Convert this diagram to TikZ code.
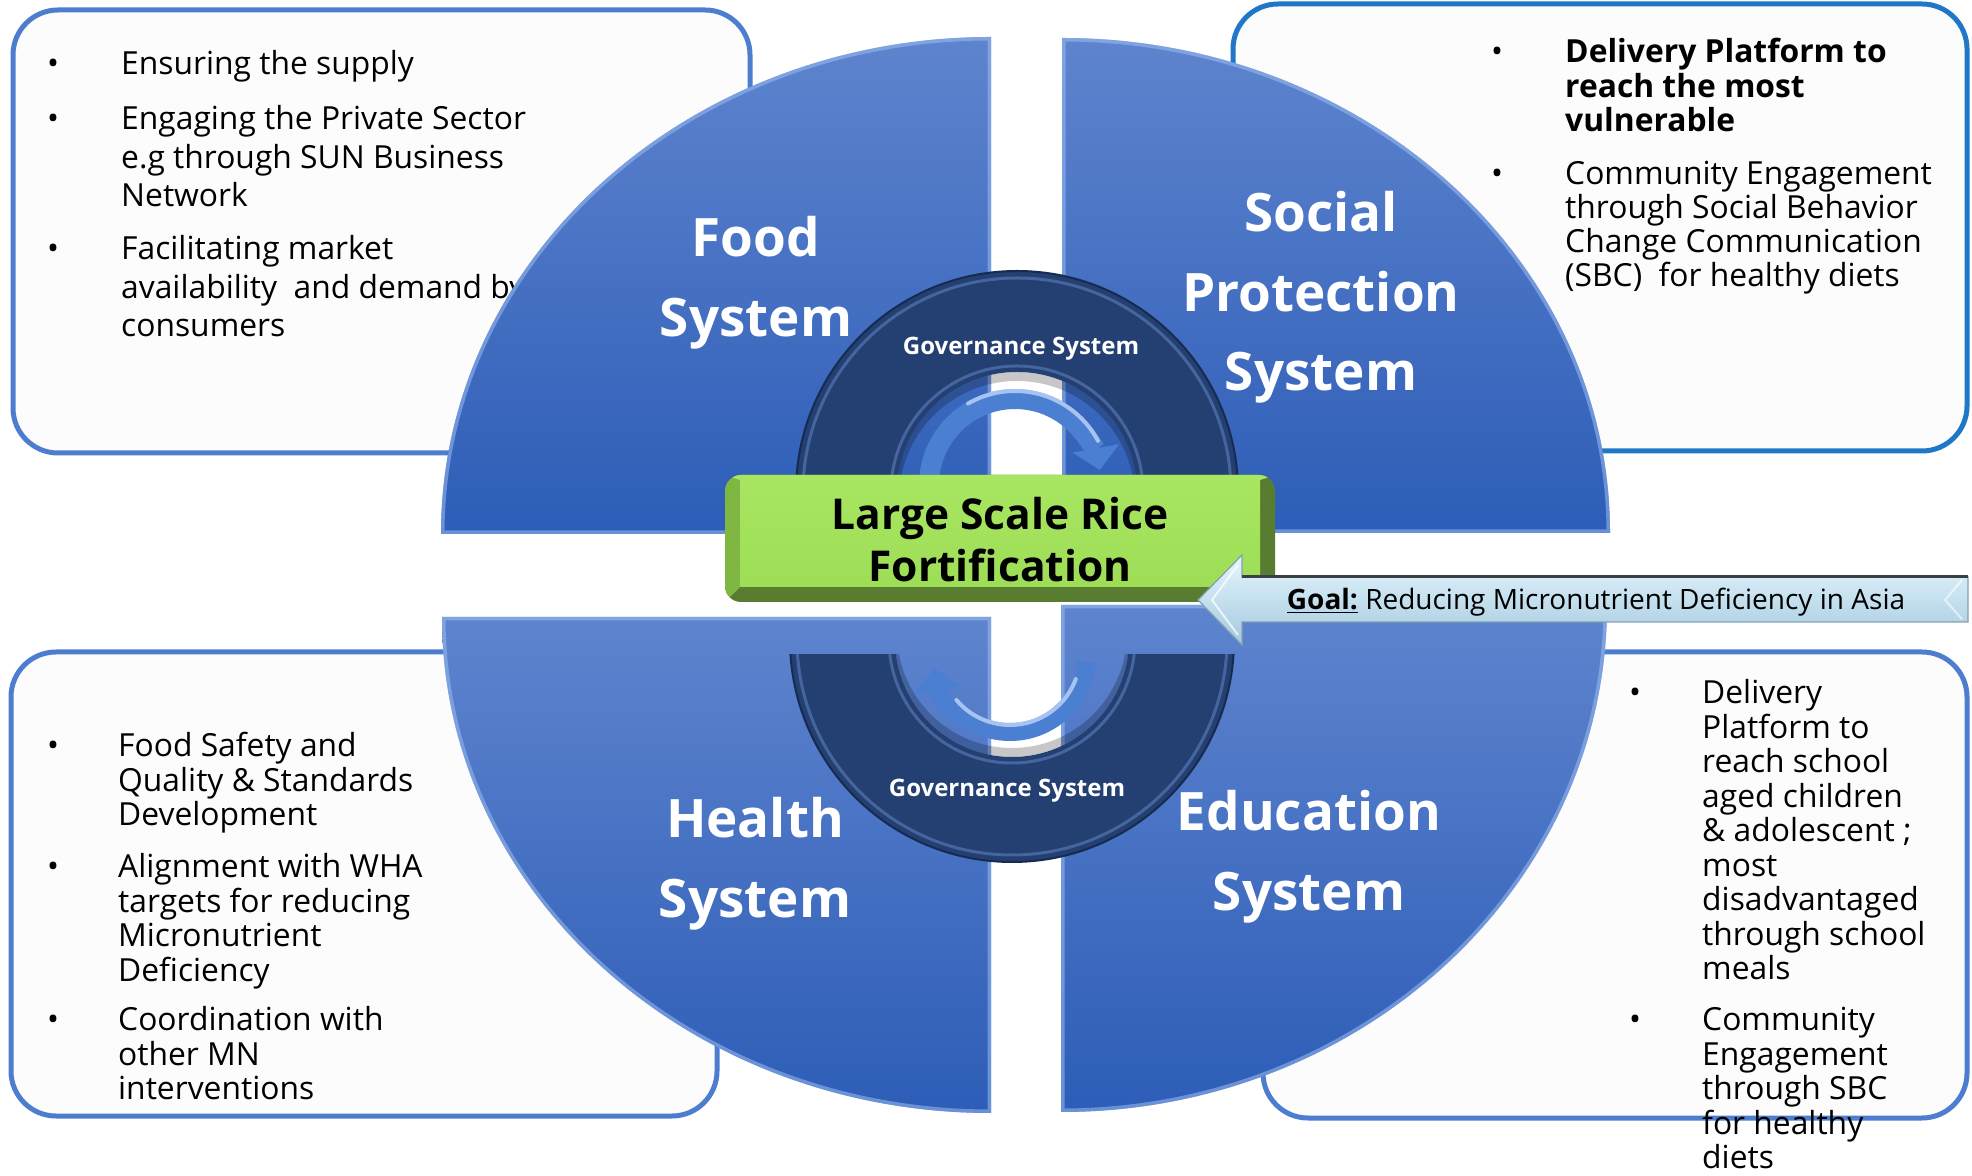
\documentclass[tikz,border=0pt]{standalone}
\usepackage{fontspec}
\setmainfont{Open Sans}
\usetikzlibrary{arrows.meta}

\definecolor{qtop}{HTML}{5E84CE}
\definecolor{qbot}{HTML}{2D5DB7}
\definecolor{qrim}{HTML}{9CBDF2}
\definecolor{boxblue}{HTML}{4D7DCF}
\definecolor{boxblueb}{HTML}{1F77C8}
\definecolor{boxfill}{HTML}{FCFCFC}
\definecolor{ringblue}{HTML}{243F72}
\definecolor{ringrim}{HTML}{45659F}
\definecolor{ringedge}{HTML}{172B50}
\definecolor{cycblue}{HTML}{4A7FD2}
\definecolor{cychi}{HTML}{CFE2FF}
\definecolor{gface}{HTML}{9EDD56}
\definecolor{gfacetop}{HTML}{A8E661}
\definecolor{gleft}{HTML}{80B642}
\definecolor{gdark}{HTML}{587C30}
\definecolor{goalhi}{HTML}{E6F7FE}
\definecolor{goallo}{HTML}{A3C8DE}
\definecolor{goaledge}{HTML}{3A3F46}

% quarter disc: centre x, centre y, start angle, end angle, x radius, y radius
\newcommand\qdisc[6]{%
  \begin{scope}
    \clip (#1,#2) -- ++(#3:#5 and #6) arc[start angle=#3, end angle=#4, x radius=#5, y radius=#6] -- cycle;
    \shade[top color=qtop, bottom color=qbot] (#1,#2) -- ++(#3:#5 and #6) arc[start angle=#3, end angle=#4, x radius=#5, y radius=#6] -- cycle;
    \draw[qrim, line width=7pt, opacity=.55] (#1,#2) -- ++(#3:#5 and #6) arc[start angle=#3, end angle=#4, x radius=#5, y radius=#6] -- cycle;
  \end{scope}}

% stacked lines, centred or flush left, baseline = first line
\newcommand\ctrlines[1]{\vtop{\halign{\hfil##\hfil\cr#1\crcr}}}
\newcommand\leftlines[1]{\vtop{\halign{##\hfil\cr#1\crcr}}}

\begin{document}
\begin{tikzpicture}[x=1pt,y=1pt,
  infobox/.style={draw=boxblue, line width=5pt, fill=boxfill, rounded corners=45pt},
  listtxt/.style={anchor=base west, inner sep=0pt, text=black, font=\fontsize{31.8}{34.5}\selectfont},
  widelist/.style={font=\fontsize{31.8}{38.5}\selectfont},
  bul/.style={anchor=base, inner sep=0pt, text=black, font=\fontsize{31.8}{34.5}\selectfont},
  title/.style={anchor=base, inner sep=0pt, text=white, font=\bfseries\fontsize{53}{79.5}\selectfont},
  govtxt/.style={anchor=base, inner sep=0pt, text=white, font=\bfseries\fontsize{24}{28}\selectfont},
  ring/.style={fill=ringblue, even odd rule},
  cycarrow/.style={draw=cycblue, line width=20pt, -{Triangle[width=46pt, length=22pt]}},
  cychl/.style={draw=cychi, line width=4pt, opacity=.7, line cap=round}
]
\useasboundingbox (0,0) rectangle (1972,1175);
\fill[white] (0,0) rectangle (1972,1175);

% ---- text boxes behind the discs ----
\draw[infobox] (13,722) rectangle (750,1165);
\draw[infobox, draw=boxblueb] (1233,724) rectangle (1967,1171);
\draw[infobox] (11,59) rectangle (717,523);
\draw[infobox] (1263,57) rectangle (1967,523);

% top left list
\node[bul] (tlb1) at (53,1100) {\textbullet};
\node[listtxt, widelist] (tl1) at (121,1100) {Ensuring the supply};
\node[bul] (tlb2) at (53,1045) {\textbullet};
\node[listtxt, widelist] (tl2) at (121,1045) {\leftlines{Engaging the Private Sector\cr e.g through SUN Business\cr Network}};
\node[bul] (tlb3) at (53,915) {\textbullet};
\node[listtxt, widelist] (tl3) at (121,915) {\leftlines{Facilitating market\cr availability~ and demand by\cr consumers}};

% top right list
\node[bul] (trb1) at (1497,1112) {\textbullet};
\node[listtxt, font=\bfseries\fontsize{31.8}{34.5}\selectfont] (tr1) at (1565,1112) {\leftlines{Delivery Platform to\cr reach the most\cr vulnerable}};
\node[bul] (trb2) at (1497,990) {\textbullet};
\node[listtxt, font=\fontsize{31.8}{34}\selectfont] (tr2) at (1565,990) {\leftlines{Community Engagement\cr through Social Behavior\cr Change Communication\cr (SBC)~ for healthy diets}};

% bottom left list
\node[bul] (blb1) at (53,418) {\textbullet};
\node[listtxt] (bl1) at (118,418) {\leftlines{Food Safety and\cr Quality \& Standards\cr Development}};
\node[bul] (blb2) at (53,297) {\textbullet};
\node[listtxt] (bl2) at (118,297) {\leftlines{Alignment with WHA\cr targets for reducing\cr Micronutrient\cr Deficiency}};
\node[bul] (blb3) at (53,144) {\textbullet};
\node[listtxt] (bl3) at (118,144) {\leftlines{Coordination with\cr other MN\cr interventions}};

% bottom right list
\node[bul] (brb1) at (1635,471) {\textbullet};
\node[listtxt] (br1) at (1702,471) {\leftlines{Delivery\cr Platform to\cr reach school\cr aged children\cr \& adolescent ;\cr most\cr disadvantaged\cr through school\cr meals}};
\node[bul] (brb2) at (1635,144) {\textbullet};
\node[listtxt] (br2) at (1702,144) {\leftlines{Community\cr Engagement\cr through SBC\cr for healthy\cr diets}};

% ---- four quarter discs ----
\qdisc{991}{641}{180}{90}{550}{497}
\qdisc{1062}{642}{90}{0}{548}{495}
\qdisc{991}{558}{180}{270}{549}{496}
\qdisc{1061}{570}{0}{-90}{546}{507}

% ---- governance rings ----
\begin{scope}
  \clip (1017,683) circle[radius=120];
  \draw[black, opacity=.22, line width=16pt] (1017,676) circle[radius=126];
\end{scope}
\begin{scope}
  \clip (700,700) rectangle (1300,1000);
  \fill[ring] (1017,683) circle[radius=221] (1017,683) circle[radius=120];
  \draw[ringrim, line width=3pt] (1017,683) circle[radius=214];
  \draw[ringrim, line width=3pt] (1017,683) circle[radius=126];
  \draw[ringedge, line width=2pt] (1017,683) circle[radius=221];
\end{scope}

\begin{scope}
  \clip (700,200) rectangle (1300,520);
  \begin{scope}
    \clip (1012,535) circle[radius=117];
    \draw[black, opacity=.22, line width=16pt] (1012,542) circle[radius=123];
  \end{scope}
  \fill[ring] (1012,535) circle[radius=222] (1012,535) circle[radius=117];
  \draw[ringrim, line width=3pt] (1012,535) circle[radius=215];
  \draw[ringrim, line width=3pt] (1012,535) circle[radius=123];
  \draw[ringedge, line width=2pt] (1012,535) circle[radius=222];
\end{scope}

% cycle arrows inside the rings
\coordinate (topc) at (1015,690);
\coordinate (botc) at (1010,520);
\draw[cycarrow] (topc) ++(195:86) arc[start angle=195, end angle=10, radius=86];
\draw[cychl] (topc) ++(120:94) arc[start angle=120, end angle=28, radius=94];
\draw[cycarrow, line width=18pt] (botc) ++(-5:77) arc[start angle=-5, end angle=-170, radius=77];
\draw[cychl] (botc) ++(-20:70) arc[start angle=-20, end angle=-140, radius=70];

% ---- central green box ----
\fill[gdark, rounded corners=16pt] (725,573) rectangle (1275,700);
\begin{scope}
  \clip[rounded corners=16pt] (725,573) rectangle (1275,700);
  \fill[gleft] (725,573) -- (740,588) -- (740,695) -- (1260,695) -- (1275,700) -- (725,700) -- cycle;
  \fill[gfacetop] (725,700) -- (740,695) -- (1260,695) -- (1275,700) -- cycle;
\end{scope}
\shade[top color=gfacetop, bottom color=gface] (740,588) rectangle (1260,695);

% ---- goal arrow ----
\shade[top color=goalhi, bottom color=goallo, draw=goallo!80!black, line width=1.2pt]
  (1198,575) -- (1242,620) -- (1242,598) -- (1968,598) -- (1968,553) -- (1242,553) -- (1242,530) -- cycle;
\draw[white, opacity=.7, line width=2pt] (1238,610) -- (1212,575) -- (1238,540);
\draw[goaledge, line width=3pt] (1242,598) -- (1968,598);
\draw[white, opacity=.6, line width=2pt] (1962,595) -- (1945,575) -- (1962,556);

% ---- labels ----
\node[title] (food) at (756,918) {\ctrlines{Food\cr System}};
\node[title] (social) at (1321,943) {\ctrlines{Social\cr Protection\cr System}};
\node[title] (health) at (755,337) {\ctrlines{Health\cr System}};
\node[title] (educ) at (1309,344) {\ctrlines{Education\cr System}};

\node[govtxt] (govtop) at (1021,820) {Governance System};
\node[govtxt] (govbot) at (1007,378) {Governance System};

\node[anchor=base, inner sep=0pt, text=black, font=\bfseries\fontsize{42.5}{52}\selectfont] (rice) at (1000,645) {\ctrlines{Large Scale Rice\cr Fortification}};

\node[anchor=base, inner sep=0pt, text=black, font=\fontsize{28}{32}\selectfont] (goal) at (1596,565) {\underline{\textbf{Goal:}} Reducing Micronutrient Deficiency in Asia};
\end{tikzpicture}
\end{document}
